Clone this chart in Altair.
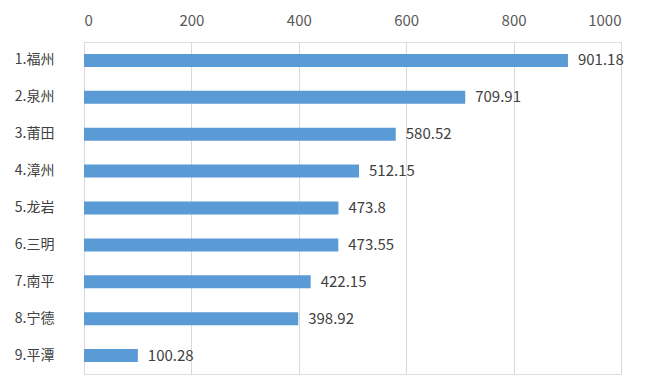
import altair as alt
import pandas as pd

cities = ["1.福州", "2.泉州", "3.莆田", "4.漳州", "5.龙岩", "6.三明", "7.南平", "8.宁德", "9.平潭"]
values = [901.18, 709.91, 580.52, 512.15, 473.8, 473.55, 422.15, 398.92, 100.28]
labels = ["901.18", "709.91", "580.52", "512.15", "473.8", "473.55", "422.15", "398.92", "100.28"]
x_ticks = [0, 200, 400, 600, 800, 1000]

df = pd.DataFrame({"city": cities, "value": values, "label": labels})

FONT = "Noto Sans CJK SC"

x_enc = alt.X("value:Q",
              scale=alt.Scale(domain=[0, 1000], nice=False),
              axis=alt.Axis(orient="top", values=x_ticks, format="d", title=None, grid=True,
                            gridColor="#d9d9d9", gridWidth=1, domain=False, ticks=False,
                            labelPadding=14, labelFontSize=15, labelColor="#595959",
                            labelFont=FONT))
y_enc = alt.Y("city:N", sort=cities,
              scale=alt.Scale(paddingInner=0.64, paddingOuter=0.32),
              axis=alt.Axis(title=None, domain=False, ticks=False, grid=False,
                            labelPadding=30, labelFontSize=14, labelColor="#404040",
                            labelFont=FONT))

bars = alt.Chart(df).mark_bar(color="#5b9bd5", size=13).encode(x=x_enc, y=y_enc)
text = alt.Chart(df).mark_text(align="left", baseline="middle", dx=10, fontSize=15,
                               color="#404040", font=FONT).encode(
    x="value:Q", y=alt.Y("city:N", sort=cities), text="label:N")

chart = (bars + text).properties(
    width=537, height=332,
    autosize=alt.AutoSizeParams(type="none"),
    padding={"left": 76, "top": 34, "right": 30, "bottom": 5},
).configure_view(stroke=None).configure(background="white")

chart.save("out.html", embed_options={"renderer": "svg", "actions": False})
